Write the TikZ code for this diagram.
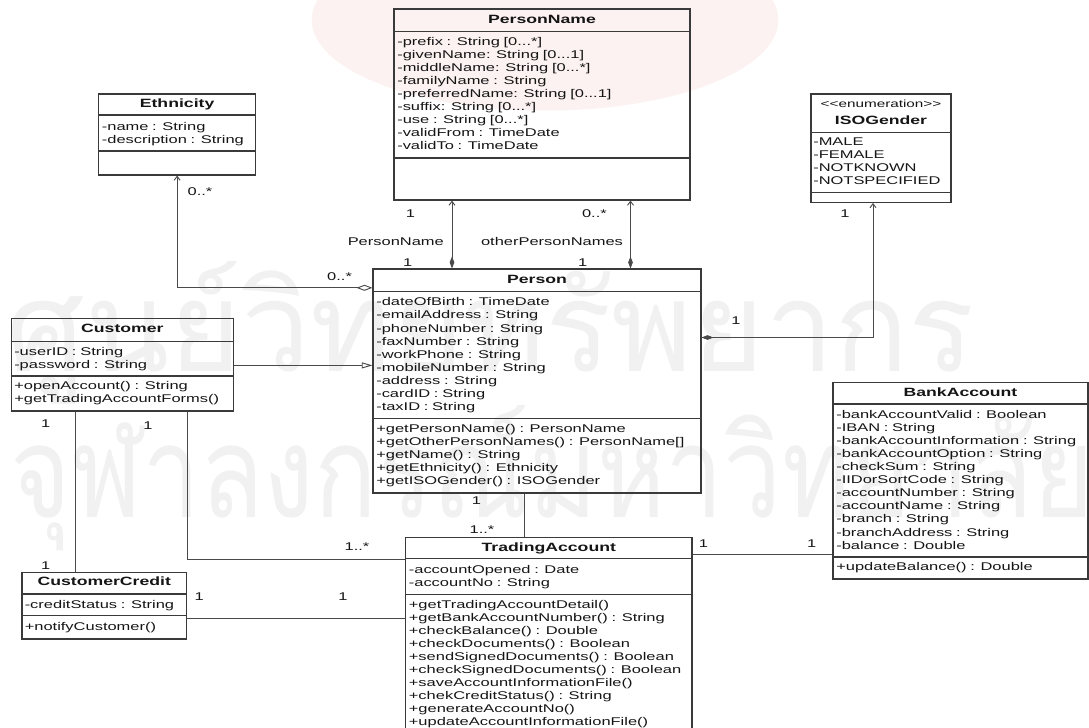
\documentclass[tikz,border=0pt]{standalone}
\usepackage{fontspec}
\usepackage{graphicx}
\setmainfont{Liberation Sans}
\newfontfamily\umlfont[FakeStretch=1.47]{Liberation Sans}
\newfontfamily\thaifont[Script=Thai]{Loma}
\usetikzlibrary{arrows.meta, fit}

\definecolor{boxgray}{HTML}{3A3A3A}
\definecolor{linegray}{HTML}{4A4A4A}
\definecolor{inkblack}{HTML}{151515}
\definecolor{wmgray}{HTML}{F1F1F1}
\definecolor{wmpink}{HTML}{FDF2F2}

\newcommand{\umlsize}{\umlfont\fontsize{8.4}{9.83}\selectfont}

\begin{document}
\begin{tikzpicture}[
         x=0.75pt, y=-0.75pt,
         classbox/.style={draw=boxgray, line width=0.8pt, inner sep=0pt},
         divider/.style={draw=boxgray, line width=0.8pt},
         classname/.style={font=\umlfont\fontsize{9}{10}\selectfont\bfseries, text=inkblack, inner sep=0pt, anchor=base},
         stereo/.style={font=\umlfont\fontsize{7.8}{9}\selectfont, text=inkblack, inner sep=0pt, anchor=base},
         members/.style={font=\umlsize, text=inkblack, align=left, inner sep=0pt, anchor=base west},
         mult/.style={font=\umlsize, text=inkblack, inner sep=0pt, anchor=base},
         assoc/.style={draw=linegray, line width=0.7pt},
         compos/.style={assoc, {Diamond[length=9pt,width=3.5pt]}-{Straight Barb[length=3pt,width=4.5pt]}},
         aggreg/.style={assoc, {Straight Barb[length=3pt,width=4.5pt]}-{Diamond[open,length=12pt,width=4.5pt]}},
         general/.style={assoc, -{Triangle[open,length=8pt,width=4.5pt]}},
         watermark/.style={font=\thaifont, text=wmgray, inner sep=0pt}
      ]
         \useasboundingbox (0,0) rectangle (1089,728);
         \clip (0,0) rectangle (1089,728);

         % faint background seal and lettering
         \fill[wmpink] (545,20) ellipse [x radius=175pt, y radius=68pt];
         \node[watermark] (wm-top) at (491,333) {\resizebox*{726pt}{107pt}{ศูนย์วิทยทรัพยากร}};
         \node[watermark] (wm-bottom) at (552,478) {\resizebox*{812pt}{109pt}{จุฬาลงกรณ์มหาวิทยาลัย}};

         % PersonName
         \node[classbox, fit={(394,9) (690,200)}] (pname) {};
         \draw[divider] (pname.west |- 0,31.6) -- (pname.east |- 0,31.6);
         \draw[divider] (pname.west |- 0,158) -- (pname.east |- 0,158);
         \node[classname] (pname-title) at (pname.north |- 0,23) {PersonName};
         \node[members, text width=219pt] (pname-attr) at (397,45) {-prefix : String [0...*]\\-givenName: String [0...1]\\-middleName: String [0...*]\\-familyName : String\\-preferredName: String [0...1]\\-suffix: String [0...*]\\-use : String [0...*]\\-validFrom : TimeDate\\-validTo : TimeDate};

         % Ethnicity
         \node[classbox, fit={(98.6,94) (255.6,175)}] (eth) {};
         \draw[divider] (eth.west |- 0,115) -- (eth.east |- 0,115);
         \draw[divider] (eth.west |- 0,151) -- (eth.east |- 0,151);
         \node[classname] (eth-title) at (eth.north |- 0,107.5) {Ethnicity};
         \node[members, text width=115pt] (eth-attr) at (101.6,130) {-name : String\\-description : String};

         % ISOGender
         \node[classbox, fit={(811,94) (951,202.4)}] (iso) {};
         \draw[divider] (iso.west |- 0,132.3) -- (iso.east |- 0,132.3);
         \draw[divider] (iso.west |- 0,192.7) -- (iso.east |- 0,192.7);
         \node[stereo] (iso-stereo) at (iso.north |- 0,107) {<<enumeration>>};
         \node[classname] (iso-title) at (iso.north |- 0,124) {ISOGender};
         \node[members, text width=102pt] (iso-attr) at (813,145.6) {-MALE\\-FEMALE\\-NOTKNOWN\\-NOTSPECIFIED};

         % Person
         \node[classbox, fit={(373,269) (701,493)}] (person) {};
         \draw[divider] (person.west |- 0,291.5) -- (person.east |- 0,291.5);
         \draw[divider] (person.west |- 0,418.3) -- (person.east |- 0,418.3);
         \node[classname] (person-title) at (person.north |- 0,283.5) {Person};
         \node[members, text width=243pt] (person-attr) at (376,305.8) {-dateOfBirth : TimeDate\\-emailAddress : String\\-phoneNumber : String\\-faxNumber : String\\-workPhone : String\\-mobileNumber : String\\-address : String\\-cardID : String\\-taxID : String};
         \node[members, text width=243pt] (person-ops) at (376,432) {+getPersonName() : PersonName\\+getOtherPersonNames() : PersonName[]\\+getName() : String\\+getEthnicity() : Ethnicity\\+getISOGender() : ISOGender};

         % Customer
         \node[classbox, fit={(11.5,318.5) (233.3,411)}] (cust) {};
         \draw[divider] (cust.west |- 0,341.5) -- (cust.east |- 0,341.5);
         \draw[divider] (cust.west |- 0,376) -- (cust.east |- 0,376);
         \node[classname] (cust-title) at (cust.north |- 0,332.7) {Customer};
         \node[members, text width=163pt] (cust-attr) at (14,355) {-userID : String\\-password : String};
         \node[members, text width=163pt] (cust-ops) at (14,389.8) {+openAccount() : String\\+getTradingAccountForms()};

         % BankAccount
         \node[classbox, fit={(833,382.5) (1088,579)}] (bank) {};
         \draw[divider] (bank.west |- 0,404) -- (bank.east |- 0,404);
         \draw[divider] (bank.west |- 0,557) -- (bank.east |- 0,557);
         \node[classname] (bank-title) at (bank.north |- 0,396.3) {BankAccount};
         \node[members, text width=189pt] (bank-attr) at (836,418.1) {-bankAccountValid : Boolean\\-IBAN : String\\-bankAccountInformation : String\\-bankAccountOption : String\\-checkSum : String\\-IIDorSortCode : String\\-accountNumber : String\\-accountName : String\\-branch : String\\-branchAddress : String\\-balance : Double};
         \node[members, text width=189pt] (bank-ops) at (836,570.9) {+updateBalance() : Double};

         % TradingAccount
         \node[classbox, fit={(405.6,537.6) (692,735)}] (trade) {};
         \draw[divider] (trade.west |- 0,558.5) -- (trade.east |- 0,558.5);
         \draw[divider] (trade.west |- 0,594.7) -- (trade.east |- 0,594.7);
         \node[classname] (trade-title) at (trade.north |- 0,551.4) {TradingAccount};
         \node[members, text width=212pt] (trade-attr) at (408.6,573.2) {-accountOpened : Date\\-accountNo : String};
         \node[members, text width=212pt] (trade-ops) at (408.6,608) {+getTradingAccountDetail()\\+getBankAccountNumber() : String\\+checkBalance() : Double\\+checkDocuments() : Boolean\\+sendSignedDocuments() : Boolean\\+checkSignedDocuments() : Boolean\\+saveAccountInformationFile()\\+chekCreditStatus() : String\\+generateAccountNo()\\+updateAccountInformationFile()};

         % CustomerCredit
         \node[classbox, fit={(22,572.3) (186.5,639)}] (credit) {};
         \draw[divider] (credit.west |- 0,594) -- (credit.east |- 0,594);
         \draw[divider] (credit.west |- 0,615.5) -- (credit.east |- 0,615.5);
         \node[classname] (credit-title) at (credit.north |- 0,585.7) {CustomerCredit};
         \node[members, text width=121pt] (credit-attr) at (24.5,608) {-creditStatus : String};
         \node[members, text width=121pt] (credit-ops) at (24.5,630) {+notifyCustomer()};

         % Associations
         \draw[aggreg] (eth.south) |- (person.west |- 0,287.8);
         \draw[compos] (person.north -| 452,0) -- (pname.south -| 452,0);
         \draw[compos] (person.north -| 630.5,0) -- (pname.south -| 630.5,0);
         \draw[compos] (person.east |- 0,337.5) -| (iso.south -| 873,0);
         \draw[general] (cust.east |- 0,365.4) -- (person.west |- 0,365.4);
         \draw[assoc] (cust.south -| 75,0) -- (credit.north -| 75,0);
         \draw[assoc] (cust.south -| 187.5,0) |- (trade.west |- 0,559.4);
         \draw[assoc] (person.south -| 524.3,0) -- (trade.north -| 524.3,0);
         \draw[assoc] (trade.east |- 0,554.8) -- (bank.west |- 0,554.8);
         \draw[assoc] (credit.east |- 0,618.8) -- (trade.west |- 0,618.8);

         % Multiplicities and role names
         \node[mult] (m-eth) at (200,195.7) {0..*};
         \node[mult] (m-eth-p) at (339.6,280.7) {0..*};
         \node[mult] (m-pn) at (410.4,217) {1};
         \node[mult] (r-pn) at (395.8,245) {PersonName};
         \node[mult] (m-pn-p) at (407.6,266.3) {1};
         \node[mult] (m-opn) at (594.4,217) {0..*};
         \node[mult] (r-opn) at (552,245) {otherPersonNames};
         \node[mult] (m-opn-p) at (582.6,266.3) {1};
         \node[mult] (m-iso) at (845,217) {1};
         \node[mult] (m-iso-p) at (736,324.3) {1};
         \node[mult] (m-cust-c) at (45.8,427.9) {1};
         \node[mult] (m-cust-t) at (148,429.3) {1};
         \node[mult] (m-credit) at (45.8,569) {1};
         \node[mult] (m-person-t) at (476.4,504) {1};
         \node[mult] (m-trade-p) at (482,533.2) {1..*};
         \node[mult] (m-trade-c) at (357,550.4) {1..*};
         \node[mult] (m-trade-b) at (703.5,547.2) {1};
         \node[mult] (m-bank) at (811.8,547.2) {1};
         \node[mult] (m-credit-t) at (199.3,600.6) {1};
         \node[mult] (m-trade-cc) at (343,600.6) {1};
      \end{tikzpicture}
\end{document}
